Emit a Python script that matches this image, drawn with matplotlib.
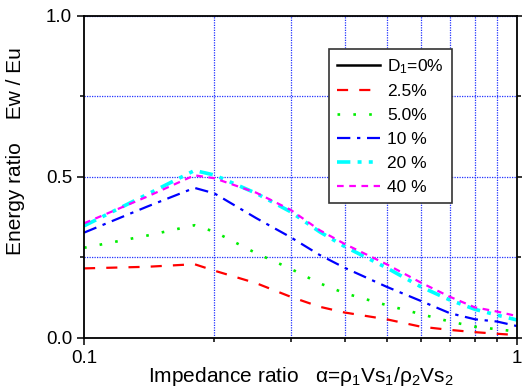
import matplotlib
matplotlib.use("Agg")
import matplotlib.pyplot as plt
from matplotlib.ticker import FixedLocator, NullFormatter

plt.rcParams['font.family'] = ['Liberation Sans', 'DejaVu Sans']
plt.rcParams['mathtext.fontset'] = 'custom'
plt.rcParams['mathtext.rm'] = 'Liberation Sans'
plt.rcParams['mathtext.default'] = 'regular'

# impedance ratio alpha
alpha = [0.1, 0.14, 0.18, 0.2, 0.25, 0.3, 0.35, 0.4, 0.5, 0.6, 0.7, 0.8, 0.9, 1.0]

# energy ratio Ew/Eu for each damping D1
e_25 = [0.216, 0.221, 0.229, 0.209, 0.170, 0.128, 0.097, 0.079, 0.058, 0.035, 0.025, 0.018, 0.013, 0.009]
e_50 = [0.280, 0.318, 0.350, 0.330, 0.263, 0.215, 0.170, 0.139, 0.102, 0.074, 0.051, 0.035, 0.027, 0.020]
e_10 = [0.327, 0.408, 0.466, 0.449, 0.372, 0.313, 0.258, 0.218, 0.159, 0.115, 0.077, 0.058, 0.051, 0.037]
e_20 = [0.348, 0.446, 0.520, 0.506, 0.449, 0.392, 0.330, 0.284, 0.218, 0.159, 0.118, 0.089, 0.071, 0.056]
e_40 = [0.356, 0.439, 0.505, 0.496, 0.451, 0.398, 0.335, 0.292, 0.229, 0.172, 0.128, 0.095, 0.082, 0.068]

labels = ['D$_1$=0%', '2.5%', '5.0%', '10 %', '20 %', '40 %']

fig = plt.figure(figsize=(5.22, 3.88), dpi=100)
ax = fig.add_axes([0.161, 0.129, 0.829, 0.830])

# D1=0% only shows up in the legend
ax.plot([], [], color='black', lw=1.8, label=labels[0])
ax.plot(alpha, e_25, color='#ff0000', lw=1.6, ls=(0, (5, 5)), label=labels[1])
ax.plot(alpha, e_50, color='#00ee00', lw=1.9, ls=(0, (1, 5)), label=labels[2])
ax.plot(alpha, e_10, color='#0000ff', lw=1.6, ls=(0, (6, 3, 1.5, 3)), label=labels[3])
ax.plot(alpha, e_20, color='#00ffff', lw=2.6, ls=(0, (3.7, 2, 1.1, 2, 1.1, 2)), label=labels[4])
ax.plot(alpha, e_40, color='#ff00ff', lw=1.6, ls=(0, (3, 2.5)), label=labels[5])

ax.set_xscale('log')
ax.set_xlim(0.1, 1)
ax.set_ylim(0, 1)

ax.xaxis.set_major_locator(FixedLocator([0.1, 1]))
ax.set_xticklabels(['0.1', '1'])
ax.xaxis.set_minor_locator(FixedLocator([0.2, 0.3, 0.4, 0.5, 0.6, 0.7, 0.8, 0.9]))
ax.xaxis.set_minor_formatter(NullFormatter())
ax.yaxis.set_major_locator(FixedLocator([0, 0.5, 1.0]))
ax.set_yticklabels(['0.0', '0.5', '1.0'])
ax.yaxis.set_minor_locator(FixedLocator([0.25, 0.75]))

ax.grid(which='minor', axis='x', color='#2233ff', ls=(0, (1, 1)), lw=0.9)
ax.grid(which='both', axis='y', color='#2233ff', ls=(0, (1, 1)), lw=0.9)

for s in ax.spines.values():
    s.set_linewidth(1.3)
ax.tick_params(which='both', direction='out', right=True, labelsize=13.5, width=1.1)
ax.tick_params(which='major', length=5)
ax.tick_params(which='minor', length=3)
ax.tick_params(axis='x', pad=4)

ax.set_xlabel('Impedance ratio   α=ρ$_1$Vs$_1$/ρ$_2$Vs$_2$', fontsize=15, labelpad=-2)
ax.set_ylabel('Energy ratio    Ew / Eu', fontsize=15)
ax.yaxis.set_label_coords(-0.136, 0.58)

leg = ax.legend(loc='upper left', bbox_to_anchor=(0.566, 0.897), fontsize=12.5,
                fancybox=False, edgecolor='#333333', framealpha=1,
                handlelength=2.5, labelspacing=0.5, borderpad=0.45,
                handletextpad=0.4, borderaxespad=0)
leg.get_frame().set_linewidth(1.2)

fig.savefig('out.png', dpi=100)
